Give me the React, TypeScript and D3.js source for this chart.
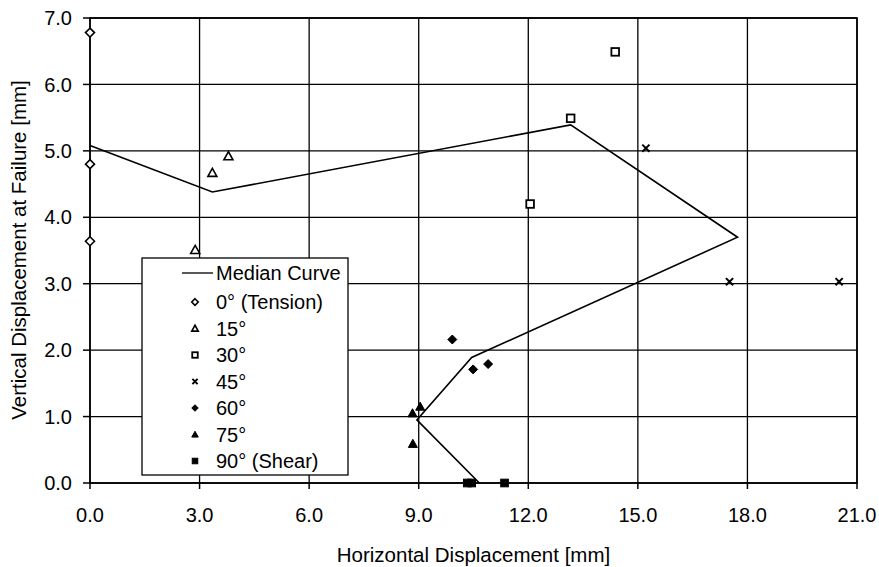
import React from "react";
import * as d3 from "d3";

const xTicks = [0, 3, 6, 9, 12, 15, 18, 21];
const yTicks = [0, 1, 2, 3, 4, 5, 6, 7];

const tension0: [number, number][] = [[0, 6.78], [0, 4.8], [0, 3.64]];
const deg15: [number, number][] = [[3.79, 4.92], [3.35, 4.67], [2.88, 3.51]];
const deg30: [number, number][] = [[14.38, 6.49], [13.16, 5.49], [12.05, 4.2]];
const deg45: [number, number][] = [[15.22, 5.04], [17.51, 3.03], [20.51, 3.03]];
const deg60: [number, number][] = [[9.92, 2.16], [10.49, 1.71], [10.9, 1.79]];
const deg75: [number, number][] = [[8.83, 1.05], [9.04, 1.15], [8.84, 0.59]];
const deg90: [number, number][] = [[10.33, 0], [10.45, 0], [11.35, 0]];
const median: [number, number][] = [
  [0, 5.08], [3.35, 4.38], [13.16, 5.39], [17.73, 3.7], [10.45, 1.89], [8.95, 0.95], [10.66, 0],
];

const legendLabels = ["Median Curve", "0° (Tension)", "15°", "30°", "45°", "60°", "75°", "90° (Shear)"];
const legendShapes = ["line", "odiamond", "otriangle", "osquare", "cross", "fdiamond", "ftriangle", "fsquare"];

const W = 879, H = 567;
const L = 90, R = 857, T = 18, B = 483;
const FONT = "'Liberation Sans', Arial, Helvetica, sans-serif";

function Marker({ shape, x, y, s }: { shape: string; x: number; y: number; s: number }) {
  const h = s / 2;
  switch (shape) {
    case "odiamond":
      return <path d={`M${x},${y - h}L${x + h},${y}L${x},${y + h}L${x - h},${y}Z`} fill="#fff" stroke="#000" strokeWidth={1.6} />;
    case "fdiamond":
      return <path d={`M${x},${y - h}L${x + h},${y}L${x},${y + h}L${x - h},${y}Z`} fill="#000" stroke="#000" strokeWidth={1} />;
    case "otriangle":
      return <path d={`M${x},${y - h}L${x + h},${y + h * 0.8}L${x - h},${y + h * 0.8}Z`} fill="#fff" stroke="#000" strokeWidth={1.6} />;
    case "ftriangle":
      return <path d={`M${x},${y - h}L${x + h},${y + h * 0.8}L${x - h},${y + h * 0.8}Z`} fill="#000" stroke="#000" strokeWidth={1} />;
    case "osquare":
      return <rect x={x - h * 0.85} y={y - h * 0.85} width={h * 1.7} height={h * 1.7} fill="#fff" stroke="#000" strokeWidth={1.8} />;
    case "fsquare":
      return <rect x={x - h * 0.85} y={y - h * 0.85} width={h * 1.7} height={h * 1.7} fill="#000" stroke="#000" strokeWidth={1} />;
    case "cross":
      return <path d={`M${x - h * 0.8},${y - h * 0.8}L${x + h * 0.8},${y + h * 0.8}M${x - h * 0.8},${y + h * 0.8}L${x + h * 0.8},${y - h * 0.8}`} stroke="#000" strokeWidth={2} fill="none" />;
    default:
      return null;
  }
}

export default function App() {
  const x = d3.scaleLinear().domain([0, 21]).range([L, R]);
  const y = d3.scaleLinear().domain([0, 7]).range([B, T]);
  const line = d3.line<[number, number]>().x((d) => x(d[0])).y((d) => y(d[1]));

  const series: { data: [number, number][]; shape: string }[] = [
    { data: tension0, shape: "odiamond" },
    { data: deg15, shape: "otriangle" },
    { data: deg30, shape: "osquare" },
    { data: deg45, shape: "cross" },
    { data: deg60, shape: "fdiamond" },
    { data: deg75, shape: "ftriangle" },
    { data: deg90, shape: "fsquare" },
  ];

  const lgX = 142, lgY = 258, lgW = 206, lgH = 217;
  const rowY = (i: number) => (i === 0 ? 273 : 302 + (i - 1) * 26.5);

  return (
    <svg width={W} height={H} style={{ position: "absolute", left: 0, top: 0, background: "#fff" }} fontFamily={FONT}>
      <rect x={0} y={0} width={W} height={H} fill="#fff" />
      {/* grid */}
      {xTicks.map((t) => (
        <line key={"gx" + t} x1={x(t)} x2={x(t)} y1={T} y2={B} stroke="#000" strokeWidth={1.3} />
      ))}
      {yTicks.map((t) => (
        <line key={"gy" + t} x1={L} x2={R} y1={y(t)} y2={y(t)} stroke="#000" strokeWidth={1.3} />
      ))}
      <rect x={L} y={T} width={R - L} height={B - T} fill="none" stroke="#000" strokeWidth={1.6} />
      {/* ticks */}
      {xTicks.map((t) => (
        <g key={"tx" + t}>
          <line x1={x(t)} x2={x(t)} y1={B} y2={B + 6} stroke="#000" strokeWidth={1.5} />
          <text x={x(t)} y={522} textAnchor="middle" fontSize={20} fill="#000">{t.toFixed(1)}</text>
        </g>
      ))}
      {yTicks.map((t) => (
        <g key={"ty" + t}>
          <line x1={L - 7} x2={L} y1={y(t)} y2={y(t)} stroke="#000" strokeWidth={1.5} />
          <text x={72} y={y(t)} dy="0.36em" textAnchor="end" fontSize={20} fill="#000">{t.toFixed(1)}</text>
        </g>
      ))}
      <text x={(L + R) / 2} y={562} textAnchor="middle" fontSize={20.5} fill="#000">Horizontal Displacement [mm]</text>
      <text transform="translate(26,250) rotate(-90)" textAnchor="middle" fontSize={20.5} fill="#000">Vertical Displacement at Failure [mm]</text>

      {/* median curve */}
      <path d={line(median) || ""} fill="none" stroke="#000" strokeWidth={1.6} />

      {/* points */}
      {series.map((s, i) =>
        s.data.map((d, j) => <Marker key={`p${i}-${j}`} shape={s.shape} x={x(d[0])} y={y(d[1])} s={9} />)
      )}

      {/* legend */}
      <rect x={lgX} y={lgY} width={lgW} height={lgH} fill="#fff" stroke="#000" strokeWidth={1.3} />
      {legendLabels.map((lab, i) => (
        <g key={"lg" + i}>
          {legendShapes[i] === "line" ? (
            <line x1={182} x2={213} y1={rowY(i)} y2={rowY(i)} stroke="#000" strokeWidth={1.3} />
          ) : (
            <Marker shape={legendShapes[i]} x={195} y={rowY(i)} s={6.5} />
          )}
          <text x={216} y={rowY(i)} dy="0.36em" fontSize={20} fill="#000">{lab}</text>
        </g>
      ))}
    </svg>
  );
}
